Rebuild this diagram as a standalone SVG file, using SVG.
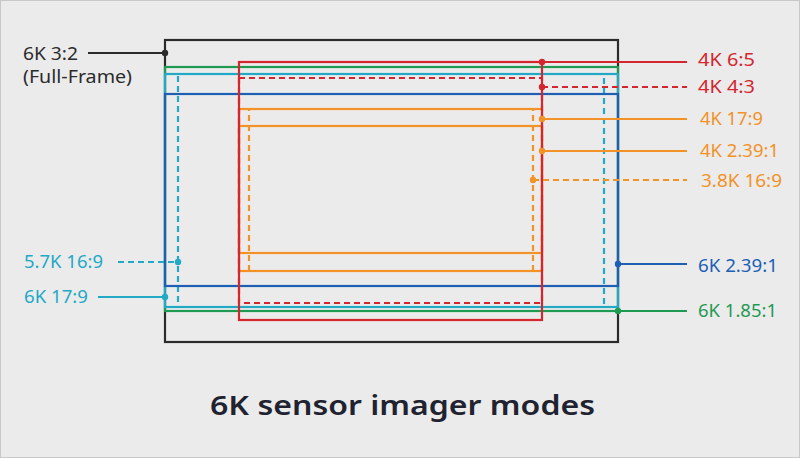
<svg xmlns="http://www.w3.org/2000/svg" width="800" height="458" viewBox="0 0 800 458">
<style>
.r{fill:none;stroke-width:2.2}
.d{stroke-dasharray:6 4}
.lbl{font-family:"Noto Sans","Open Sans","Liberation Sans",sans-serif;font-size:18px}
.k{stroke:#2b2b2b}.kf{fill:#2b2b2b}
.g{stroke:#1f9a52}.gf{fill:#1f9a52}
.c{stroke:#22a9c6}.cf{fill:#22a9c6}
.b{stroke:#1d5fb3}.bf{fill:#1d5fb3}
.rd{stroke:#d3262e}.rf{fill:#d3262e}
.o{stroke:#f29227}.of{fill:#f29227}
</style>
<rect x="0" y="0" width="800" height="458" fill="#ebebec"/>
<rect x="0.5" y="0.5" width="799" height="457" fill="none" stroke="#c9c9c9"/>
<g id="ff">
<rect class="r k" x="165" y="40" width="453" height="302"/>
<text class="lbl" fill="#2b2b2b" x="23" y="60" textLength="55" lengthAdjust="spacingAndGlyphs">6K 3:2</text>
<text class="lbl" fill="#2b2b2b" x="23" y="83" textLength="109" lengthAdjust="spacingAndGlyphs">(Full-Frame)</text>
</g>
<g id="6k185">
<rect class="r g" x="165" y="67" width="453" height="244"/>
<text class="lbl" fill="#1f9a52" x="698" y="317" textLength="79" lengthAdjust="spacingAndGlyphs">6K 1.85:1</text>
</g>
<g id="6k179">
<rect class="r c" x="165" y="74" width="453" height="233"/>
<text class="lbl" fill="#22a9c6" x="24" y="303" textLength="64" lengthAdjust="spacingAndGlyphs">6K 17:9</text>
</g>
<g id="57k169">
<rect class="r c d" x="178" y="74" width="426" height="233"/>
<text class="lbl" fill="#22a9c6" x="24" y="268" textLength="79" lengthAdjust="spacingAndGlyphs">5.7K 16:9</text>
</g>
<g id="6k239">
<rect class="r b" x="165" y="94" width="453" height="192"/>
<text class="lbl" fill="#1d5fb3" x="698" y="272" textLength="80" lengthAdjust="spacingAndGlyphs">6K 2.39:1</text>
</g>
<g id="4k179">
<rect class="r o" x="239" y="109" width="303" height="162" stroke-width="1.6"/>
<text class="lbl" fill="#f29227" x="700" y="125" textLength="63" lengthAdjust="spacingAndGlyphs">4K 17:9</text>
</g>
<g id="4k239">
<rect class="r o" x="239" y="126" width="303" height="127"/>
<text class="lbl" fill="#f29227" x="700" y="157" textLength="79" lengthAdjust="spacingAndGlyphs">4K 2.39:1</text>
</g>
<g id="4k65">
<rect class="r rd" x="239" y="62" width="303" height="258"/>
<text class="lbl" fill="#d3262e" x="698" y="66" textLength="57" lengthAdjust="spacingAndGlyphs">4K 6:5</text>
</g>
<g id="4k43">
<rect class="r rd d" x="239" y="78" width="303" height="225"/>
<text class="lbl" fill="#d3262e" x="698" y="93" textLength="57" lengthAdjust="spacingAndGlyphs">4K 4:3</text>
</g>
<g id="38k169">
<rect class="r o d" x="249" y="109" width="284" height="162"/>
<text class="lbl" fill="#f29227" x="701" y="187" textLength="81" lengthAdjust="spacingAndGlyphs">3.8K 16:9</text>
</g>
<g id="connectors" stroke-width="2.2">
<line class="k" x1="88" y1="53" x2="165" y2="53"/><circle class="kf" cx="165" cy="53" r="3.2"/>
<line class="rd" x1="542" y1="62" x2="687" y2="62"/><circle class="rf" cx="542" cy="62" r="3.2"/>
<line class="rd d" x1="542" y1="87" x2="687" y2="87"/><circle class="rf" cx="542" cy="87" r="3.2"/>
<line class="o" x1="542" y1="119" x2="687" y2="119"/><circle class="of" cx="542" cy="119" r="3.2"/>
<line class="o" x1="542" y1="151" x2="687" y2="151"/><circle class="of" cx="542" cy="151" r="3.2"/>
<line class="o d" x1="533" y1="180" x2="687" y2="180"/><circle class="of" cx="533" cy="180" r="3.2"/>
<line class="b" x1="618" y1="264" x2="687" y2="264"/><circle class="bf" cx="618" cy="264" r="3.2"/>
<line class="g" x1="618" y1="311" x2="687" y2="311"/><circle class="gf" cx="618" cy="311" r="3.2"/>
<line class="c d" x1="118" y1="262" x2="178" y2="262"/><circle class="cf" cx="178" cy="262" r="3.2"/>
<line class="c" x1="98" y1="297" x2="165" y2="297"/><circle class="cf" cx="165" cy="297" r="3.2"/>
</g>
<text x="210" y="415" font-family="Noto Sans, Open Sans, Liberation Sans, sans-serif" font-size="27" font-weight="600" fill="#1f2330" textLength="385" lengthAdjust="spacingAndGlyphs">6K sensor imager modes</text>
</svg>
